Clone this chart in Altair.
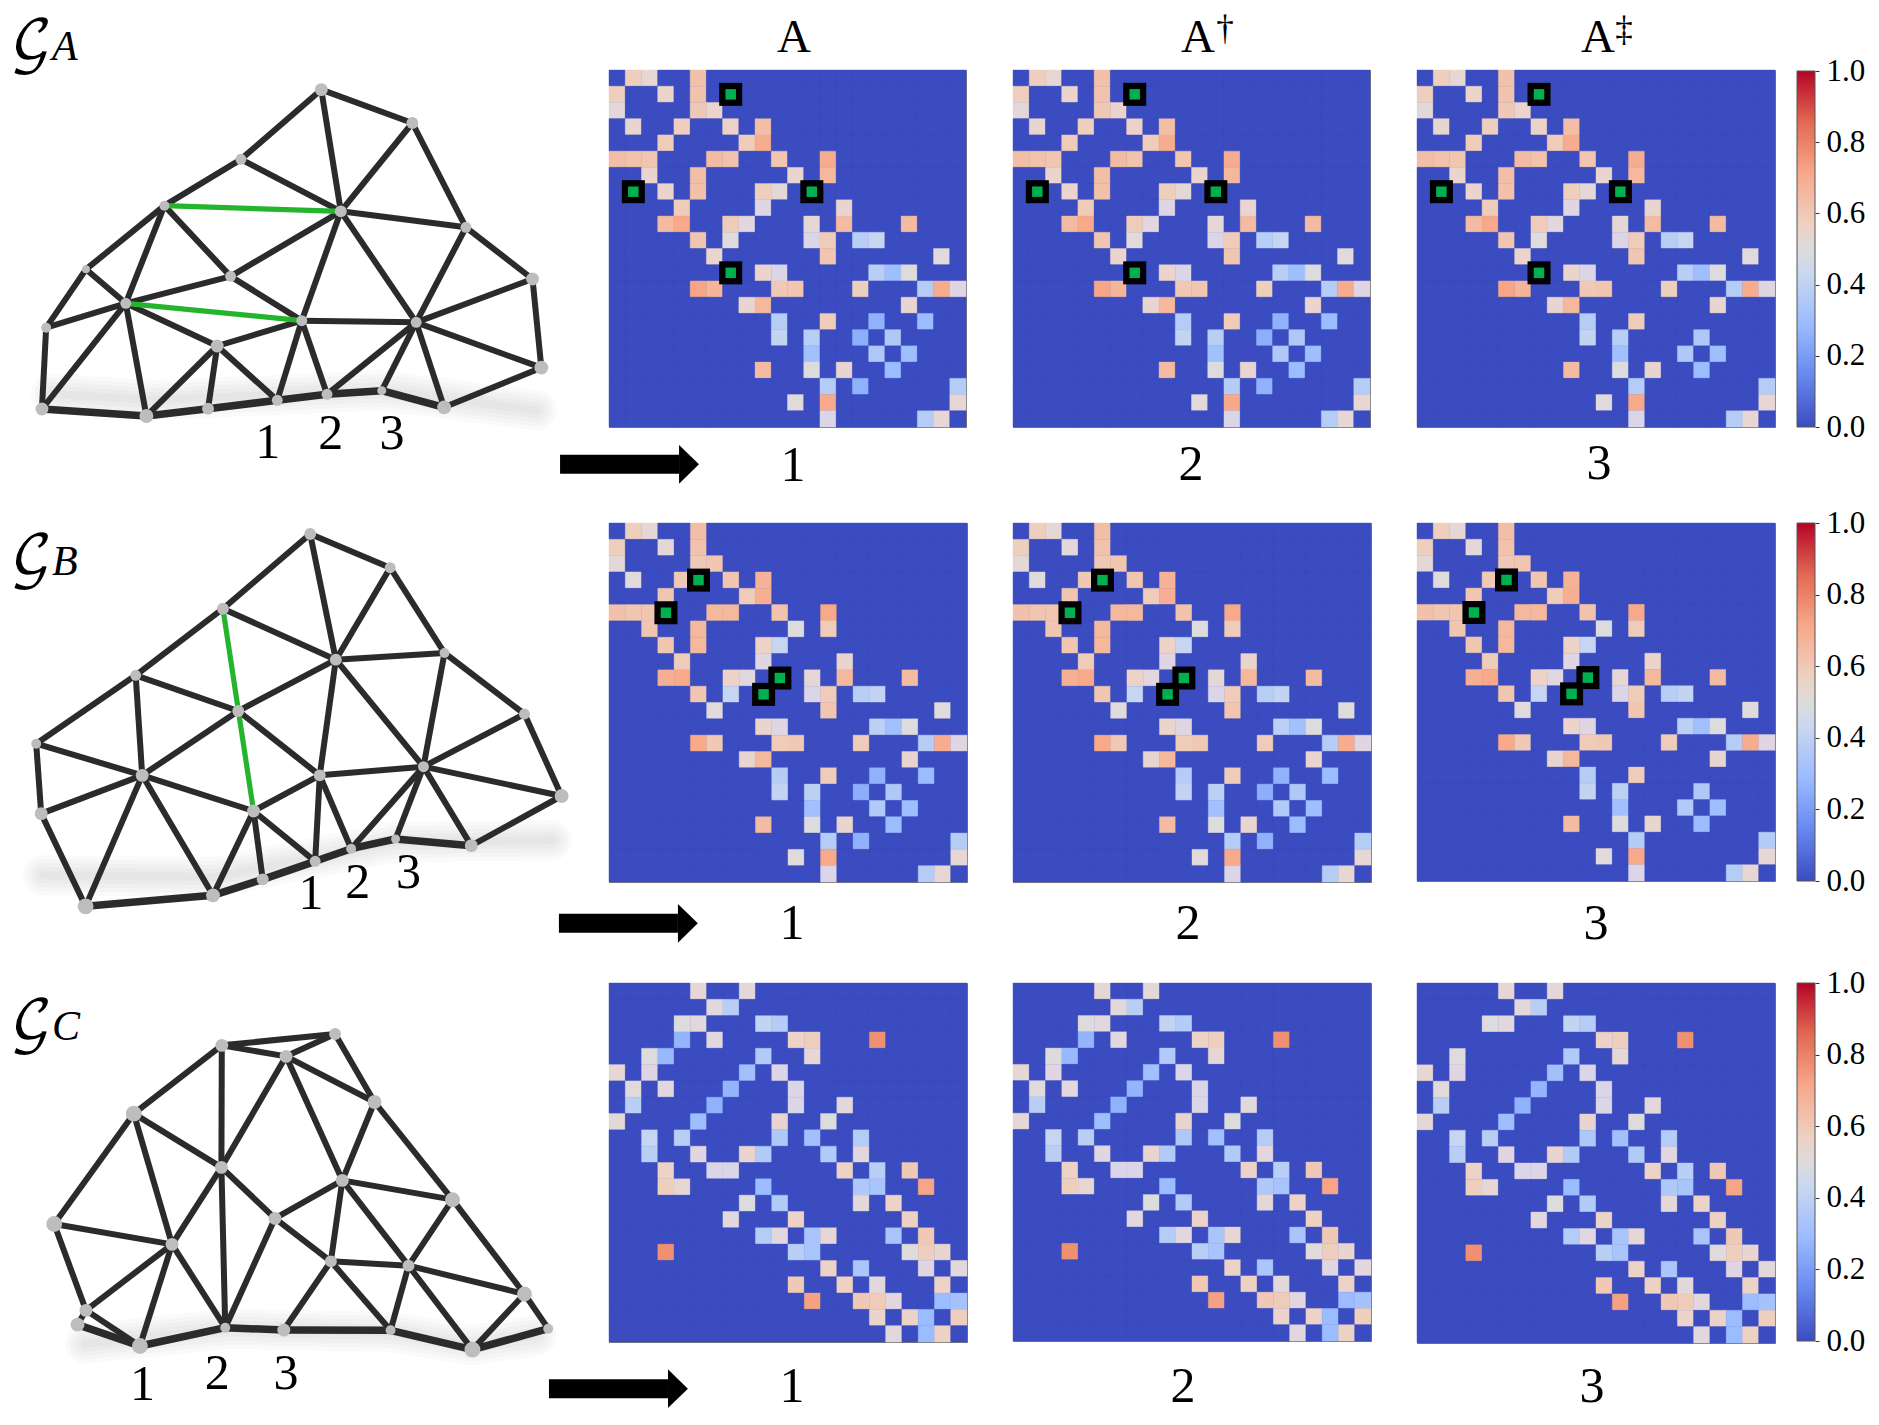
import altair as alt
import pandas as pd

# ---------- colour ramp (coolwarm) ----------
RAMP_POS = [0, 0.143, 0.286, 0.429, 0.5, 0.571, 0.714, 0.857, 1]
RAMP_COL = ["#3b4cc0", "#6788ee", "#9abbff", "#c9d7f0", "#dddcdc", "#edd1c2", "#f7a889", "#e26952", "#b40426"]
CB_TICKS = [0, 0.2, 0.4, 0.6, 0.8, 1.0]
N = 22

# ---------- matrices (row -> [(col, value)]) ----------
A_ROWS = [
 [(1,.58),(2,.53),(5,.63)],
 [(0,.58),(3,.55),(5,.62)],
 [(0,.52),(5,.60),(6,.55)],
 [(1,.54),(4,.58),(7,.56),(9,.64)],
 [(3,.59),(8,.59),(9,.70)],
 [(0,.64),(1,.62),(2,.61),(6,.65),(7,.62),(10,.61),(13,.70)],
 [(2,.55),(5,.64),(11,.54),(13,.66)],
 [(3,.55),(5,.63),(9,.58),(10,.52)],
 [(4,.59),(9,.46),(14,.54)],
 [(3,.65),(4,.71),(7,.59),(8,.47),(12,.53),(14,.65),(18,.65)],
 [(5,.61),(7,.51),(12,.45),(13,.59),(15,.38),(16,.42)],
 [(6,.55),(13,.61),(20,.49)],
 [(9,.55),(10,.45),(16,.38),(17,.30),(18,.50)],
 [(5,.72),(6,.67),(10,.60),(11,.61),(15,.58),(19,.37),(20,.70),(21,.46)],
 [(8,.54),(9,.66),(18,.54)],
 [(10,.37),(13,.59),(16,.26),(19,.29)],
 [(10,.41),(12,.38),(15,.25),(17,.35)],
 [(12,.31),(16,.35),(18,.30)],
 [(9,.65),(12,.50),(14,.54),(17,.29)],
 [(13,.37),(15,.26),(21,.37)],
 [(11,.49),(13,.71),(21,.53)],
 [(13,.45),(19,.37),(20,.53)],
]
B_ROWS = [
 [(1,.58),(2,.53),(5,.64)],
 [(0,.58),(3,.52),(5,.62)],
 [(0,.52),(5,.60),(6,.61)],
 [(1,.51),(4,.60),(7,.61),(9,.68)],
 [(3,.61),(8,.59),(9,.69)],
 [(0,.63),(1,.61),(2,.61),(6,.66),(7,.66),(10,.62),(13,.71)],
 [(2,.61),(5,.66),(11,.50),(13,.59)],
 [(3,.61),(5,.66),(9,.56),(10,.42)],
 [(4,.59),(9,.46),(14,.55)],
 [(3,.69),(4,.71),(7,.56),(8,.47),(12,.53),(14,.66),(18,.65)],
 [(5,.61),(7,.42),(12,.45),(13,.59),(15,.38),(16,.41)],
 [(6,.49),(13,.61),(20,.49)],
 [(9,.55),(10,.46),(16,.39),(17,.31),(18,.50)],
 [(5,.71),(6,.60),(10,.59),(11,.60),(15,.59),(19,.37),(20,.70),(21,.46)],
 [(8,.54),(9,.66),(18,.54)],
 [(10,.37),(13,.59),(16,.26),(19,.29)],
 [(10,.41),(12,.39),(15,.25),(17,.35)],
 [(12,.31),(16,.36),(18,.30)],
 [(9,.65),(12,.50),(14,.54),(17,.29)],
 [(13,.37),(15,.26),(21,.37)],
 [(11,.49),(13,.71),(21,.53)],
 [(13,.45),(19,.37),(20,.53)],
]
C_ROWS = [
 [(5,.53),(8,.52)],
 [(6,.48),(7,.38)],
 [(4,.50),(5,.47),(9,.41),(10,.37)],
 [(4,.27),(6,.47),(11,.56),(12,.58),(16,.77)],
 [(2,.50),(3,.28),(9,.36),(12,.53)],
 [(0,.53),(2,.46),(8,.31),(10,.45)],
 [(1,.49),(3,.47),(7,.27),(11,.45)],
 [(1,.38),(6,.26),(11,.45),(14,.48)],
 [(0,.52),(5,.30),(10,.54),(13,.50)],
 [(2,.42),(4,.38),(10,.35),(12,.31),(15,.37)],
 [(2,.38),(5,.46),(8,.54),(9,.36),(13,.36),(15,.47)],
 [(3,.56),(6,.45),(7,.45),(14,.56),(16,.38),(18,.60)],
 [(3,.58),(4,.53),(9,.29),(15,.35),(16,.33),(19,.72)],
 [(8,.50),(10,.36),(15,.52),(17,.56)],
 [(7,.47),(11,.56),(18,.57)],
 [(9,.37),(10,.47),(12,.33),(13,.53),(17,.33),(19,.60)],
 [(3,.77),(11,.38),(12,.33),(18,.49),(19,.58),(20,.54)],
 [(13,.56),(15,.34),(19,.46),(21,.48)],
 [(11,.60),(14,.57),(16,.48),(20,.56)],
 [(12,.73),(15,.60),(16,.59),(17,.47),(20,.29),(21,.32)],
 [(16,.55),(18,.56),(19,.29),(21,.58)],
 [(17,.47),(19,.29),(20,.57)],
]
# cells that are gone in the third panel of each row
AB_DROP_3 = [(15,16),(15,19),(16,15),(19,15)]
C_DROP_3 = [(3,4),(3,6),(4,3),(6,3)]
# highlighted entries
A_MARK = [(1,7),(7,1),(7,12),(12,7)]
B_MARK = [(3,5),(5,3),(9,10),(10,9)]
C_MARK = []

# ---------- graphs (x in 1568/600 units, y in 3x units of each crop) ----------
A_NODES = [(837,263),(1075,363),(627,472),(427,611),(888,628),(1215,676),(1389,831),(222,802),(600,823),(326,904),(118,977),(786,956),(1085,961),(565,1032),(1412,1097),(107,1221),(380,1242),(541,1220),(722,1195),(852,1177),(995,1166),(1158,1216)]
A_RAD = [6.5,6,5.5,5,6,5.5,6.5,4,5.5,5.5,5,5.5,5.5,6.5,7,6.5,7,6,5.5,5.5,4.5,7]
A_EDGES = [(0,1),(0,2),(0,4),(1,4),(1,5),(2,3),(2,4),(3,7),(3,9),(3,8),(4,5),(4,8),(4,11),(4,12),(5,6),(5,12),(6,12),(6,14),(7,9),(7,10),(8,9),(8,11),(9,10),(9,13),(9,15),(9,16),(10,15),(11,13),(11,12),(11,18),(11,19),(12,14),(12,19),(12,20),(12,21),(13,16),(13,17),(13,18),(14,21)]
A_BOTTOM = [(15,16),(16,17),(17,18),(18,19),(19,20),(20,21)]
A_GREEN = [(3,4),(9,11)]
A_DIGITS = [("1",697,1368),("2",862,1342),("3",1022,1342)]
A_SHADOW = [(130,1175),(400,1195),(990,1165),(1400,1225)]

B_NODES = [(808,66),(1017,167),(580,290),(352,490),(875,443),(1159,423),(1368,606),(92,695),(620,597),(369,790),(105,905),(833,790),(1104,764),(660,897),(1465,852),(221,1183),(554,1150),(684,1102),(821,1048),(915,1010),(1031,981),(1229,1001)]
B_RAD = [6,5.5,6,5.5,6,5,5.5,5,6,6.5,6.5,6,5.5,6.5,7,8,7,6,5.5,5,4.5,6.5]
B_EDGES = [(0,1),(0,2),(0,4),(1,4),(1,5),(2,3),(2,4),(3,7),(3,8),(3,9),(4,5),(4,8),(4,11),(4,12),(5,6),(5,12),(6,12),(6,14),(7,9),(7,10),(8,9),(8,11),(9,10),(9,13),(9,15),(9,16),(10,15),(11,13),(11,12),(11,18),(11,19),(12,14),(12,19),(12,20),(12,21),(13,16),(13,17),(13,18),(14,21)]
B_BOTTOM = [(15,16),(16,17),(17,18),(18,19),(19,20),(20,21)]
B_GREEN = [(2,13)]
B_DIGITS = [("1",810,1190),("2",932,1158),("3",1065,1127)]
B_SHADOW = [(110,1090),(560,1095),(1031,990),(1440,985)]

C_NODES = [(577,190),(873,156),(745,223),(976,360),(347,395),(576,556),(892,595),(1180,653),(139,726),(716,709),(447,787),(862,838),(1065,851),(1368,936),(222,985),(200,1028),(363,1092),(586,1037),(739,1044),(1018,1045),(1232,1103),(1430,1040)]
C_RAD = [6.5,6,6.5,7,8,6.5,6.5,7.5,8,6.5,6.5,6,6,7.5,6.5,7,8,5,6.5,5,8,5]
C_EDGES = [(0,1),(0,2),(1,2),(1,3),(2,3),(0,4),(0,5),(2,5),(2,6),(3,6),(3,7),(4,8),(4,10),(4,5),(5,10),(5,17),(5,9),(6,9),(6,7),(6,11),(6,12),(7,12),(7,13),(8,10),(8,14),(9,11),(9,17),(10,14),(10,16),(10,17),(11,12),(11,18),(11,19),(12,13),(12,19),(12,20),(13,20),(13,21),(14,15),(14,16)]
C_BOTTOM = [(15,16),(16,17),(17,18),(18,19),(19,20),(20,21)]
C_GREEN = []
C_DIGITS = [("1",370,1253),("2",565,1220),("3",745,1220)]
C_SHADOW = [(220,1085),(600,1040),(1020,1050),(1230,1090),(1400,1060)]

SERIF = "Liberation Serif"
color_scale = alt.Scale(domain=RAMP_POS, range=RAMP_COL)
GRAPH_W = 554
X_DOM = [20.9, 20.9 + GRAPH_W * 2.6133]


def cells(rows, drop=()):
    vals = {(r, c): v for r, row in enumerate(rows) for c, v in row if (r, c) not in drop}
    return pd.DataFrame([{"r": r, "c": c, "v": vals.get((r, c), 0.0)} for r in range(N) for c in range(N)])


def label(txt, px, py, size, **kw):
    return alt.Chart(pd.DataFrame({"t": [txt]})).mark_text(
        font=SERIF, fontSize=size, align=kw.pop("align", "center"), baseline="alphabetic", color="black", **kw
    ).encode(x=alt.value(px), y=alt.value(py), text="t:N")


def heat(rows, marks, w, h, drop=(), notes=()):
    xs = alt.Scale(domain=list(range(N)), paddingInner=0, paddingOuter=0)
    ys = alt.Scale(domain=list(range(N)), paddingInner=0, paddingOuter=0)
    X = alt.X("c:O", axis=None, scale=xs)
    Y = alt.Y("r:O", axis=None, scale=ys)
    base = alt.Chart(cells(rows, drop)).mark_rect(strokeWidth=0.4).encode(
        x=X, y=Y,
        color=alt.Color("v:Q", scale=color_scale, legend=None),
        stroke=alt.Stroke("v:Q", scale=color_scale, legend=None),
    )
    layers = [base]
    if marks:
        md = pd.DataFrame(marks, columns=["r", "c"])
        layers.append(alt.Chart(md).mark_point(shape="square", filled=True, size=530, color="black", opacity=1).encode(x=X, y=Y))
        layers.append(alt.Chart(md).mark_point(shape="square", filled=True, size=110, color="#00b050", opacity=1).encode(x=X, y=Y))
    layers.extend(notes)
    return alt.layer(*layers).properties(width=w, height=h, view=alt.ViewConfig(stroke="#777777", strokeWidth=1, fill=RAMP_COL[0]))


def graph(nodes, rad, edges, bottom, green, digits, shadow, ytop, ybot, height, arrow_y, arrow_x, gname, gbase, ghost=None):
    xsc = alt.Scale(domain=X_DOM, nice=False, zero=False)
    ysc = alt.Scale(domain=[ybot, ytop], nice=False, zero=False)
    X = lambda f: alt.X(f, axis=None, scale=xsc)
    Y = lambda f: alt.Y(f, axis=None, scale=ysc)
    def seg(lst, w):
        return [{"x1": nodes[a][0], "y1": nodes[a][1], "x2": nodes[b][0], "y2": nodes[b][1], "w": w} for a, b in lst]
    layers = []
    sd = pd.DataFrame([{"x": x, "y": y, "o": i} for i, (x, y) in enumerate(shadow)])
    for sw in (40, 32, 24, 16, 8):
        layers.append(alt.Chart(sd).mark_line(strokeWidth=sw, opacity=0.022, color="#333333", strokeCap="round", strokeJoin="round").encode(x=X("x:Q"), y=Y("y:Q"), order="o:O"))
    ed = pd.DataFrame(seg(edges, 6) + seg(bottom, 7.5))
    layers.append(alt.Chart(ed).mark_rule(color="#2b2b2b").encode(x=X("x1:Q"), x2="x2:Q", y=Y("y1:Q"), y2="y2:Q", strokeWidth=alt.StrokeWidth("w:Q", scale=None)))
    if green:
        gd = pd.DataFrame(seg(green, 5.2))
        layers.append(alt.Chart(gd).mark_rule(color="#25b52c", strokeWidth=5.2).encode(x=X("x1:Q"), x2="x2:Q", y=Y("y1:Q"), y2="y2:Q"))
    nd = pd.DataFrame([{"x": x, "y": y, "s": 3.14159 * (1.12 * r) ** 2} for (x, y), r in zip(nodes, rad)])
    layers.append(alt.Chart(nd).mark_circle(color="#bdbdbd", opacity=1).encode(x=X("x:Q"), y=Y("y:Q"), size=alt.Size("s:Q", scale=None, legend=None)))
    dd = pd.DataFrame(digits, columns=["t", "x", "y"])
    layers.append(alt.Chart(dd).mark_text(font=SERIF, fontSize=50, baseline="alphabetic", color="black").encode(x=X("x:Q"), y=Y("y:Q"), text="t:N"))
    # arrow
    x0, xh, x1 = arrow_x
    shaft = pd.DataFrame([{"x": x0, "x2": xh, "y": arrow_y}])
    layers.append(alt.Chart(shaft).mark_rule(color="black", strokeWidth=19).encode(x=X("x:Q"), x2="x2:Q", y=Y("y:Q")))
    head = pd.DataFrame([{"x": xh, "y": arrow_y - 58, "y2": arrow_y + 58}, {"x": x1, "y": arrow_y, "y2": arrow_y}])
    layers.append(alt.Chart(head).mark_area(color="black", orient="vertical").encode(x=X("x:Q"), y=Y("y:Q"), y2="y2:Q"))
    # G label
    layers.append(alt.Chart(pd.DataFrame({"t": ["\U0001D4A2"]})).mark_text(
        font="DejaVu Math TeX Gyre, DejaVu Serif, DejaVu Sans", fontSize=56, align="left", baseline="alphabetic", color="black"
    ).encode(x=alt.value(1), y=alt.value(gbase), text="t:N"))
    layers.append(label(gname, 43, gbase, 42, align="left", fontStyle="italic"))
    if ghost is not None:
        g = pd.DataFrame({"x": [X_DOM[0]], "y": [ghost]})
        layers.append(alt.Chart(g).mark_point(opacity=0, size=1).encode(x=X("x:Q"), y=Y("y:Q")))
    return alt.layer(*layers).properties(width=GRAPH_W, height=height, view=alt.ViewConfig(stroke="transparent"))


def cbar(height, top):
    d = pd.DataFrame({"lo": [0], "hi": [1]})
    grad = alt.Gradient(gradient="linear", x1=0, x2=0, y1=1, y2=0,
                        stops=[alt.GradientStop(offset=p, color=c) for p, c in zip(RAMP_POS, RAMP_COL)])
    return alt.Chart(d).mark_rect(color=grad, stroke="#555555", strokeWidth=1).encode(
        x=alt.value(-24), x2=alt.value(-6),
        y=alt.Y("lo:Q", scale=alt.Scale(domain=[0, 1], range=[height, top], nice=False),
                axis=alt.Axis(orient="right", offset=-24, values=CB_TICKS, format=".1f", title=None, domain=False, grid=False,
                              tickSize=4, tickColor="#333333", labelFont=SERIF, labelFontSize=31, labelColor="black",
                              labelPadding=7, labelOverlap=False, labelFlush=False, labelBound=False,
                              labelBaseline="middle")),
        y2="hi:Q",
    ).properties(width=18, height=height + 1, view=alt.ViewConfig(stroke="transparent"))


# ---------- row A ----------
gA = graph(A_NODES, A_RAD, A_EDGES, A_BOTTOM, A_GREEN, A_DIGITS, A_SHADOW, 204, 1563, 453, 1387, (1461, 1772, 1824), "A", -10, ghost=24)
hA1 = heat(A_ROWS, A_MARK, 357, 357, notes=[label("A", 185, -18, 47), label("1", 184, 411, 50)])
hA2 = heat(A_ROWS, A_MARK, 357, 357, notes=[label("A", 185, -18, 47), label("\u2020", 212, -30, 35), label("2", 178, 410, 50)])
hA3 = heat(A_ROWS, A_MARK, 358, 357, drop=AB_DROP_3, notes=[label("A", 181, -18, 47), label("\u2021", 207, -29, 35), label("3", 182, 409, 50)])

# ---------- row B ----------
gB = graph(B_NODES, B_RAD, B_EDGES, B_BOTTOM, B_GREEN, B_DIGITS, B_SHADOW, 33, 1413, 460, 1234, (1458, 1769, 1821), "B", 52)
hB1 = heat(B_ROWS, B_MARK, 358, 359, notes=[label("1", 183, 416, 50)])
hB2 = heat(B_ROWS, B_MARK, 358, 359, notes=[label("2", 175, 416, 50)])
hB3 = heat(B_ROWS, B_MARK, 358, 358, drop=AB_DROP_3, notes=[label("3", 179, 416, 50)])

# ---------- row C ----------
gC = graph(C_NODES, C_RAD, C_EDGES, C_BOTTOM, C_GREEN, C_DIGITS, C_SHADOW, 3, 1305, 434, 1220, (1432, 1743, 1795), "C", 57)
hC1 = heat(C_ROWS, C_MARK, 358, 359, notes=[label("1", 183, 419, 50)])
hC2 = heat(C_ROWS, C_MARK, 358, 358, notes=[label("2", 170, 419, 50)])
hC3 = heat(C_ROWS, C_MARK, 358, 360, drop=C_DROP_3, notes=[label("3", 175, 419, 50)])

panels = [gA, hA1, hA2, hA3, cbar(357, 1),
          gB, hB1, hB2, hB3, cbar(358, 0),
          gC, hC1, hC2, hC3, cbar(358, 0)]

chart = alt.concat(*panels, columns=5, spacing={"column": 46, "row": 0}, bounds="flush", align="each").properties(
    padding=0, background="white"
).configure_view(stroke="transparent")
chart.save("out.html", embed_options={"renderer": "svg", "actions": False})
